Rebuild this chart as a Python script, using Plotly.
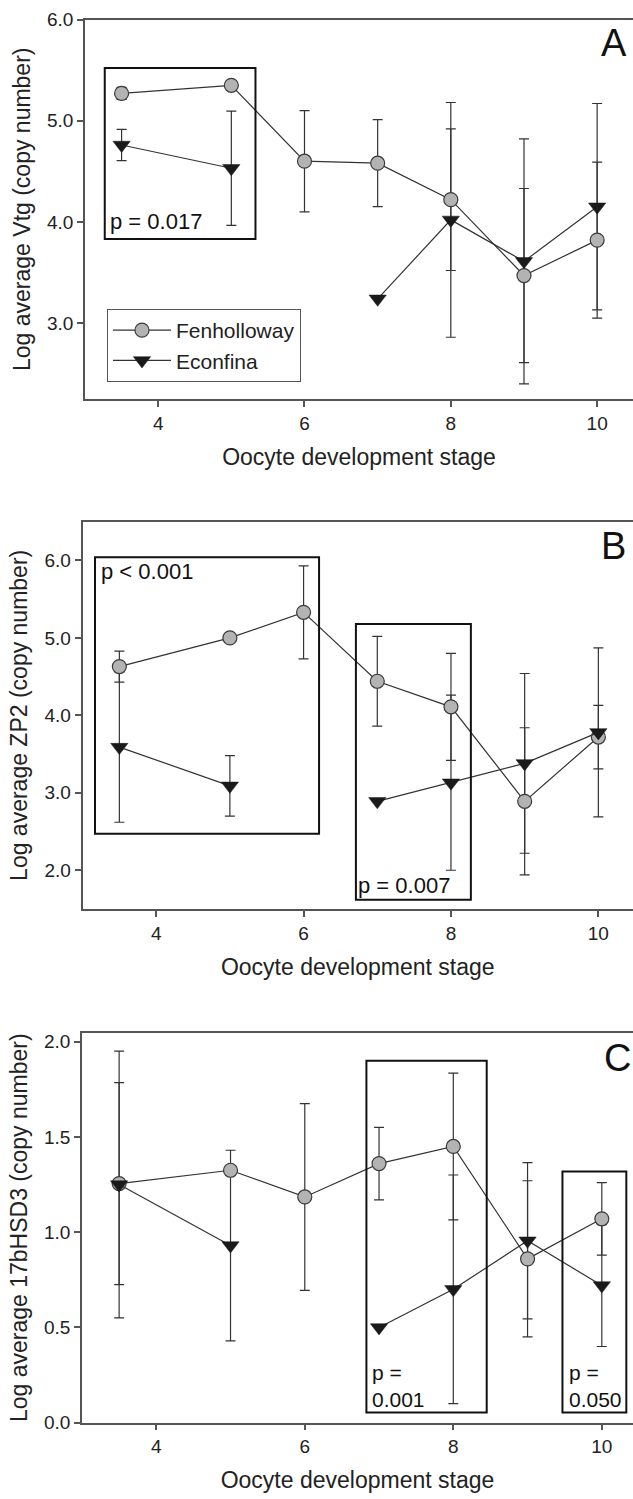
import plotly.graph_objects as go

# ---------------- data ----------------
stages = [3.5, 5, 6, 7, 8, 9, 10]
series_names = ["Fenholloway", "Econfina"]
x_tick_vals = [4, 6, 8, 10]

vtg_fen = [5.27, 5.35, 4.60, 4.58, 4.22, 3.47, 3.82]
vtg_fen_err = [0.06, None, 0.50, 0.43, 0.70, 0.86, 0.77]
vtg_eco = [4.76, 4.53, None, 3.24, 4.02, 3.61, 4.15]
vtg_eco_err = [0.155, 0.565, None, None, 1.16, 1.21, 1.02]

zp2_fen = [4.63, 5.00, 5.33, 4.44, 4.11, 2.89, 3.72]
zp2_fen_err = [0.20, None, 0.60, 0.58, 0.69, 0.95, 0.41]
zp2_eco = [3.59, 3.09, None, 2.89, 3.13, 3.38, 3.78]
zp2_eco_err = [0.97, 0.39, None, None, 1.13, 1.16, 1.09]

hsd_fen = [1.255, 1.325, 1.185, 1.36, 1.45, 0.86, 1.07]
hsd_fen_err = [0.53, None, 0.49, 0.19, 0.385, 0.41, 0.19]
hsd_eco = [1.25, 0.93, None, 0.50, 0.70, 0.955, 0.72]
hsd_eco_err = [0.70, 0.50, None, None, 0.60, 0.41, 0.32]

y_titles = ["Log average Vtg (copy number)",
            "Log average ZP2 (copy number)",
            "Log average 17bHSD3 (copy number)"]
x_title = "Oocyte development stage"
panel_letters = ["A", "B", "C"]

# ---------------- layout helpers ----------------
W, H = 633, 1499
def px(x):
    return x / W
def py(y):
    return 1 - y / H

FONT = "Liberation Sans, Arial, sans-serif"
AXC = "#555555"
LINEC = "#333333"

panels = [
    dict(fen=vtg_fen, fen_err=vtg_fen_err, eco=vtg_eco, eco_err=vtg_eco_err,
         xdom=[px(85), 1], ydom=[py(399), py(19.5)], xr=[3, 10.49], yr=[2.25, 6.0],
         dtick=1.0, letter_xy=(614, 43)),
    dict(fen=zp2_fen, fen_err=zp2_fen_err, eco=zp2_eco, eco_err=zp2_eco_err,
         xdom=[px(82.5), 1], ydom=[py(909), py(521.7)], xr=[3, 10.47], yr=[1.5, 6.5],
         dtick=1.0, letter_xy=(613, 546)),
    dict(fen=hsd_fen, fen_err=hsd_fen_err, eco=hsd_eco, eco_err=hsd_eco_err,
         xdom=[px(82), 1], ydom=[py(1422.7), py(1032.7)], xr=[3, 10.42], yr=[0, 2.047],
         dtick=0.5, letter_xy=(617, 1058)),
]

# significance boxes (data coords) per panel: (panel index, x0, x1, y0, y1)
boxes = [
    (0, 3.27, 5.33, 3.83, 5.52),
    (1, 3.17, 6.21, 2.47, 6.04),
    (1, 6.71, 8.27, 1.62, 5.18),
    (2, 6.83, 8.45, 0.053, 1.90),
    (2, 9.47, 10.33, 0.053, 1.318),
]
# p-value labels (pixel positions: left x, center y)
p_labels = [
    ("p = 0.017", 109, 221.5, 22),
    ("p < 0.001", 100, 571.7, 22),
    ("p = 0.007", 357, 885, 22),
    ("p =<br>0.001", 371.4, 1386, 21),
    ("p =<br>0.050", 568.4, 1386, 21),
]

fig = go.Figure()

for i, p in enumerate(panels):
    sfx = "" if i == 0 else str(i + 1)
    xa, ya = "x" + sfx, "y" + sfx
    # error bars (drawn beneath markers)
    for vals, errs in ((p["fen"], p["fen_err"]), (p["eco"], p["eco_err"])):
        keep = [k for k in range(len(stages)) if vals[k] is not None and errs[k] is not None]
        fig.add_trace(go.Scatter(
            x=[stages[k] for k in keep], y=[vals[k] for k in keep],
            mode="markers", xaxis=xa, yaxis=ya, showlegend=False, hoverinfo="skip",
            marker=dict(size=1, color="rgba(0,0,0,0)"),
            error_y=dict(type="data", array=[errs[k] for k in keep], visible=True,
                         color=LINEC, thickness=1.2, width=5)))
    # Fenholloway
    fig.add_trace(go.Scatter(
        x=stages, y=p["fen"], mode="lines+markers", name=series_names[0],
        xaxis=xa, yaxis=ya, showlegend=(i == 0), legendrank=1,
        line=dict(color=LINEC, width=1.2),
        marker=dict(symbol="circle", size=14, color="#b3b3b3",
                    line=dict(color="#3a3a3a", width=1.2))))
    # Econfina
    fig.add_trace(go.Scatter(
        x=stages, y=p["eco"], mode="lines+markers", name=series_names[1],
        xaxis=xa, yaxis=ya, showlegend=(i == 0), connectgaps=False, legendrank=2,
        line=dict(color=LINEC, width=1.2),
        marker=dict(symbol="triangle-down", size=15, color="#1a1a1a",
                    line=dict(color="#1a1a1a", width=0.5))))

    axis_common = dict(showline=True, linecolor=AXC, linewidth=1.5, ticks="outside",
                       ticklen=6, tickwidth=1.5, tickcolor=AXC, showgrid=False,
                       zeroline=False, automargin=False,
                       tickfont=dict(family=FONT, size=19, color="#222"))
    fig.update_layout({
        "xaxis" + sfx: dict(axis_common, domain=p["xdom"], range=p["xr"], anchor=ya,
                             tickvals=x_tick_vals, mirror=True,
                             title=dict(text=x_title, standoff=16,
                                        font=dict(family=FONT, size=23, color="#222"))),
        "yaxis" + sfx: dict(axis_common, domain=p["ydom"], range=p["yr"], anchor=xa,
                             dtick=p["dtick"], tick0=0, tickformat=".1f", mirror=False,
                             title=dict(text=y_titles[i], standoff=10,
                                        font=dict(family=FONT, size=23, color="#222"))),
    })
    lx, ly = p["letter_xy"]
    fig.add_annotation(text=panel_letters[i], xref="paper", yref="paper",
                       x=px(lx), y=py(ly), xanchor="center", yanchor="middle",
                       showarrow=False, font=dict(family=FONT, size=38, color="#111"))

for (pi, x0, x1, y0, y1) in boxes:
    sfx = "" if pi == 0 else str(pi + 1)
    fig.add_shape(type="rect", xref="x" + sfx, yref="y" + sfx, x0=x0, x1=x1, y0=y0, y1=y1,
                  line=dict(color="#111", width=2), fillcolor="rgba(0,0,0,0)", layer="above")

for (t, lx, ly, fs) in p_labels:
    fig.add_annotation(text=t, xref="paper", yref="paper", x=px(lx), y=py(ly),
                       xanchor="left", yanchor="middle", align="left", showarrow=False,
                       borderpad=0, font=dict(family=FONT, size=fs, color="#111"))

fig.update_layout(
    width=W, height=H, margin=dict(l=0, r=0, t=0, b=0),
    paper_bgcolor="white", plot_bgcolor="white",
    font=dict(family=FONT, color="#222"),
    legend=dict(x=px(107), y=py(309), xanchor="left", yanchor="top",
                bordercolor=AXC, borderwidth=1, bgcolor="white",
                font=dict(family=FONT, size=21, color="#222"),
                itemwidth=58, tracegroupgap=0),
)

fig.write_html("out.html",
               config={"displayModeBar": False},
               post_script="document.body.style.margin='0px';"
                           "document.documentElement.style.overflow='hidden';")
